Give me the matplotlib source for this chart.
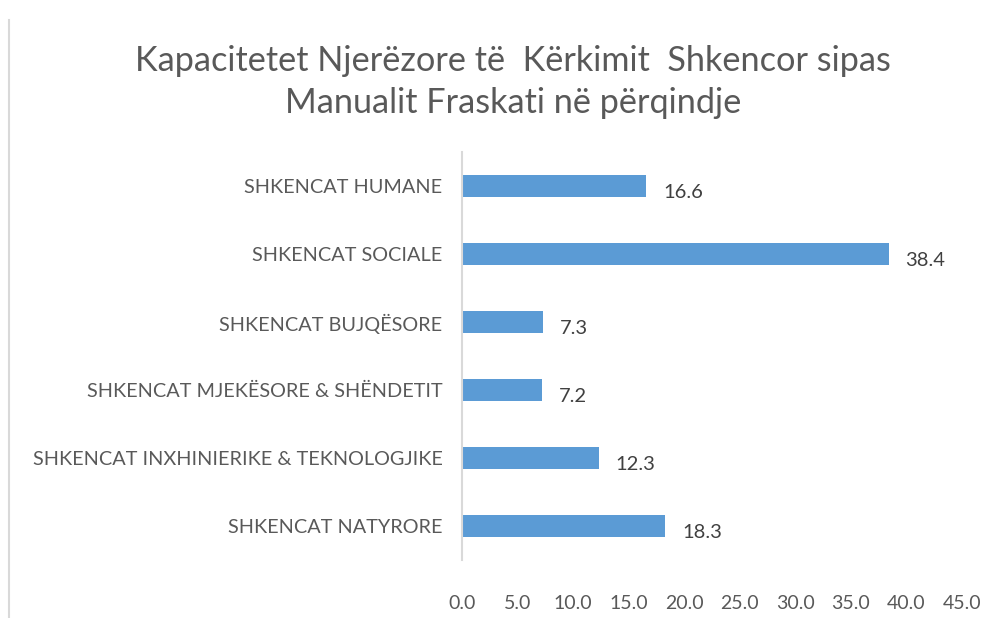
import matplotlib.pyplot as plt
from matplotlib.lines import Line2D

categories = [
    "SHKENCAT NATYRORE",
    "SHKENCAT INXHINIERIKE & TEKNOLOGJIKE",
    "SHKENCAT MJEKËSORE & SHËNDETIT",
    "SHKENCAT BUJQËSORE",
    "SHKENCAT SOCIALE",
    "SHKENCAT HUMANE",
]
values = [18.3, 12.3, 7.2, 7.3, 38.4, 16.6]
xticks = [0, 5, 10, 15, 20, 25, 30, 35, 40, 45]

title = "Kapacitetet Njerëzore të  Kërkimit  Shkencor sipas\nManualit Fraskati në përqindje"

bar_color = "#5B9BD5"
text_color = "#595959"

plt.rcParams['font.family'] = ['Lato', 'DejaVu Sans']

fig = plt.figure(figsize=(10, 6.18), dpi=100)
ax = fig.add_axes([0.462, 1 - 560 / 618, 0.5, 408 / 618])

ypos = list(range(len(categories)))
ax.barh(ypos, values, height=0.32, color=bar_color)

for y, v in zip(ypos, values):
    ax.annotate(f"{v:.1f}", (v, y), xytext=(12, -5), textcoords="offset points",
                ha="left", va="center", fontsize=14.5, color="#404040")

ax.set_xlim(0, 45)
ax.set_ylim(-0.5, len(categories) - 0.5)
ax.set_yticks(ypos)
ax.set_yticklabels(categories)
ax.set_xticks(xticks)
ax.set_xticklabels([f"{t:.1f}" for t in xticks])
ax.tick_params(axis="y", length=0, pad=14, labelsize=14.3, labelcolor=text_color)
ax.tick_params(axis="x", length=0, pad=25, labelsize=14, labelcolor=text_color)

for side in ["top", "right", "bottom"]:
    ax.spines[side].set_visible(False)
ax.spines["left"].set_color("#D9D9D9")
ax.spines["left"].set_linewidth(1.5)

fig.text(0.513, 1 - 82 / 618, title, ha="center", va="center",
         fontsize=24.7, color=text_color, linespacing=1.4)

# chart frame edge on the left
fig.add_artist(Line2D([8.5 / 1000, 8.5 / 1000], [0, 1 - 20 / 618],
                      transform=fig.transFigure, color="#D9D9D9", lw=1.5))

fig.savefig("out.png", dpi=100)
